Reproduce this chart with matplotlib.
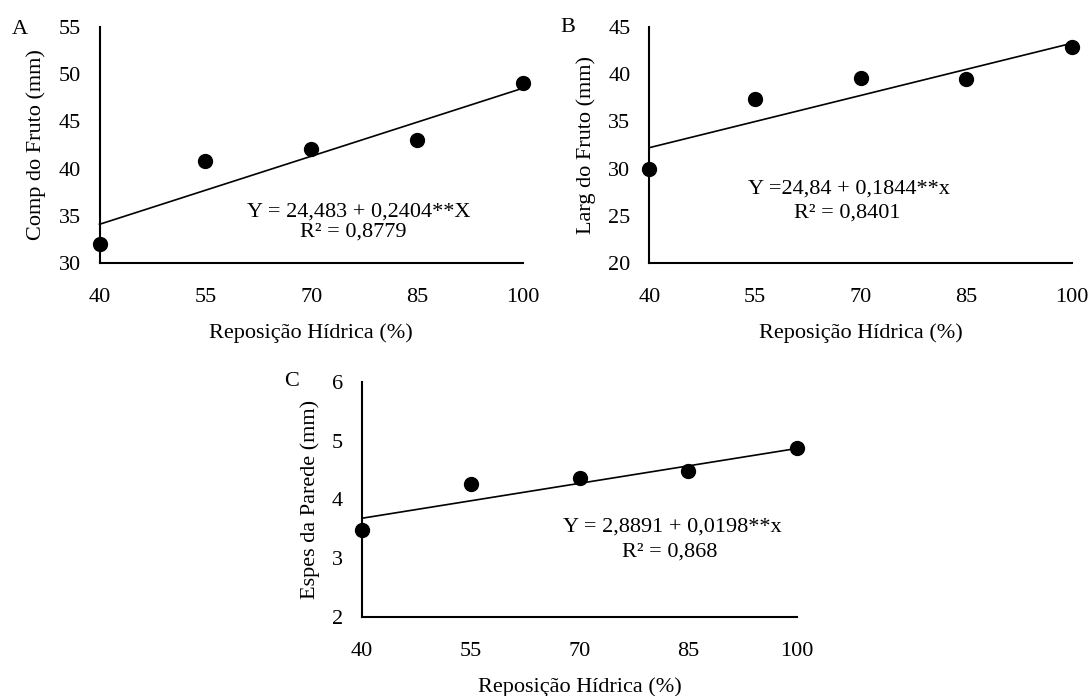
import numpy as np
import matplotlib
matplotlib.use("Agg")
import matplotlib.pyplot as plt

plt.rcParams['font.family'] = ['Liberation Serif', 'DejaVu Serif']
plt.rcParams['font.size'] = 16

# dados
reposicao = [40, 55, 70, 85, 100]
x_ticks = [40, 55, 70, 85, 100]

comp_fruto = [32.0, 40.8, 42.1, 43.05, 49.05]
larg_fruto = [29.98, 37.34, 39.56, 39.46, 42.9]
espes_parede = [3.48, 4.27, 4.36, 4.48, 4.88]

# coeficientes das regressões (a, b)
coef_comp = (24.483, 0.2404)
coef_larg = (24.84, 0.1844)
coef_espes = (2.8891, 0.0198)

eq_textos = ["Y = 24,483 + 0,2404**X", "Y =24,84 + 0,1844**x", "Y = 2,8891 + 0,0198**x"]
r2_textos = ["R² = 0,8779", "R² = 0,8401", "R² = 0,868"]
y_labels = ["Comp do Fruto (mm)", "Larg do Fruto (mm)", "Espes da Parede (mm)"]
letras = ["A", "B", "C"]
y_ticks = [[30, 35, 40, 45, 50, 55], [20, 25, 30, 35, 40, 45], [2, 3, 4, 5, 6]]

W, H = 1091, 696
fig = plt.figure(figsize=(W / 100, H / 100), dpi=100)


def px_axes(left, top, right, bottom):
    return fig.add_axes([left / W, 1 - bottom / H, (right - left) / W, (bottom - top) / H])


axs = [px_axes(99.5, 27, 523, 263), px_axes(649.3, 27, 1072, 263), px_axes(362, 382, 797, 617)]
series = [comp_fruto, larg_fruto, espes_parede]
coefs = [coef_comp, coef_larg, coef_espes]
# posição dos textos (x eq, y eq, x R², y R²) em coordenadas de dados
eq_pos = [(76.8, 35.35, 75.9, 33.23), (68.35, 27.84, 68.1, 25.3), (82.76, 3.53, 82.5, 3.106)]
letra_px = [(20, 30), (568, 27), (292, 381)]

for i, ax in enumerate(axs):
    y = series[i]
    a, b = coefs[i]
    ax.scatter(reposicao, y, s=100, color='black', zorder=3, clip_on=False)
    xl = np.array([40, 100])
    ax.plot(xl, a + b * xl, color='black', lw=1.2, clip_on=False)

    ax.set_xlim(40, 100)
    ax.set_ylim(y_ticks[i][0], y_ticks[i][-1])
    ax.set_xticks(x_ticks)
    ax.set_yticks(y_ticks[i])
    ax.tick_params(length=0)
    ax.tick_params(axis='x', pad=18)
    ax.tick_params(axis='y', pad=13.5)
    for s in ['top', 'right']:
        ax.spines[s].set_visible(False)
    for s in ['left', 'bottom']:
        ax.spines[s].set_linewidth(1.5)

    ax.set_ylabel(y_labels[i], labelpad=9)
    ax.set_xlabel("Reposição Hídrica (%)", labelpad=12)

    ex, ey, rx, ry = eq_pos[i]
    ax.text(ex, ey, eq_textos[i], ha='center', va='center')
    ax.text(rx, ry, r2_textos[i], ha='center', va='center')

    lx, ly = letra_px[i]
    fig.text(lx / W, 1 - ly / H, letras[i], ha='center', va='center')

fig.savefig("out.png", dpi=100)
